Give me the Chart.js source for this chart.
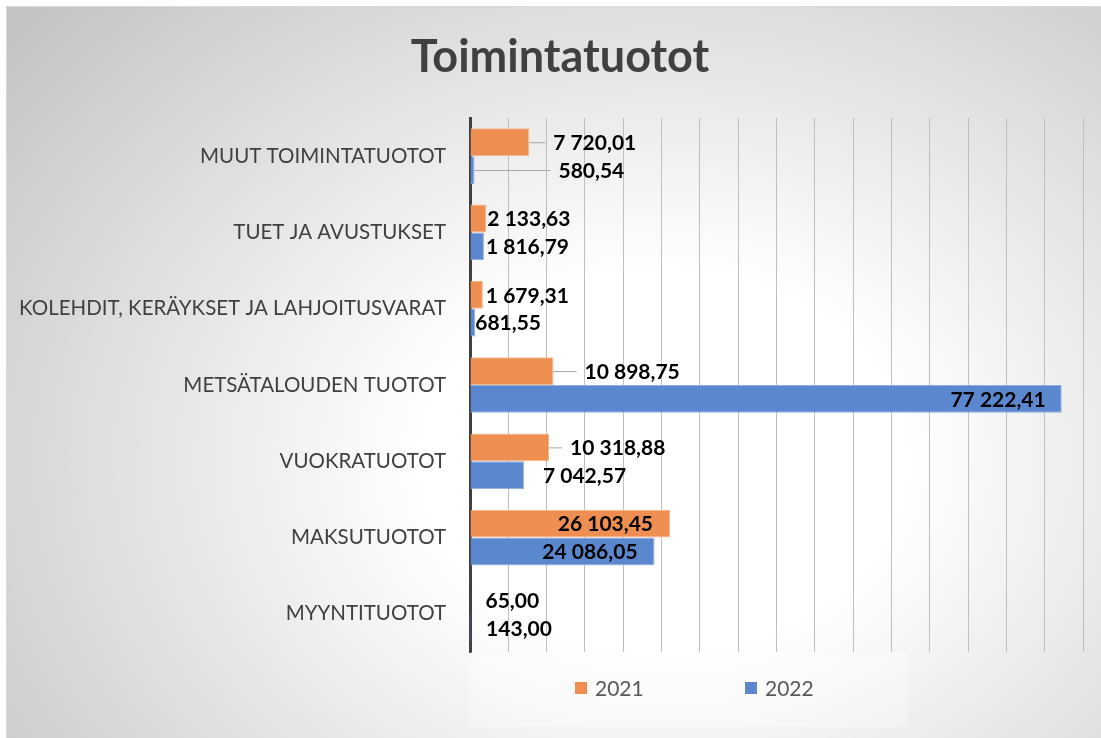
<!DOCTYPE html>
<html>
<head>
<meta charset="utf-8">
<script src="https://cdn.jsdelivr.net/npm/chart.js@4/dist/chart.umd.min.js"></script>
<style>
    html, body { margin: 0; padding: 0; background: #ffffff; }
    #frame {
        position: absolute; left: 6px; top: 6px; width: 1095px; height: 732px;
        border-top: 1px solid #d9d9d9; border-left: 1px solid #d9d9d9;
        background: radial-gradient(ellipse 78% 92% at 60% 62%, #ffffff 0%, #ffffff 28%, #c3c3c3 100%);
    }
    #wrap { position: absolute; left: 0; top: 0; width: 1101px; height: 738px; }
</style>
</head>
<body>
<div id="frame"></div>
<div id="wrap"><canvas id="toimintatuototGrafigi" width="1101" height="738"></canvas></div>
<script>
const chartTitle = 'Toimintatuotot';
const categories = [
    'MUUT TOIMINTATUOTOT',
    'TUET JA AVUSTUKSET',
    'KOLEHDIT, KERÄYKSET JA LAHJOITUSVARAT',
    'METSÄTALOUDEN TUOTOT',
    'VUOKRATUOTOT',
    'MAKSUTUOTOT',
    'MYYNTITUOTOT'
];
const seriesLabels = ['2021', '2022'];
const values2021 = [7720.01, 2133.63, 1679.31, 10898.75, 10318.88, 26103.45, 65.00];
const values2022 = [580.54, 1816.79, 681.55, 77222.41, 7042.57, 24086.05, 143.00];
const xMax = 80000;
const xStep = 5000;

// label shift from the bar end in px, negative = inside end (right aligned)
const labelDx2021 = [24, 1, 3, 31, 21, -17, 15];
const labelDx2022 = [84, 2, 0, -16, 19, -17, 15];

function formatFi(v) {
    const parts = v.toFixed(2).split('.');
    const intPart = parts[0].replace(/\B(?=(\d{3})+(?!\d))/g, ' ');
    return intPart + ',' + parts[1];
}

const titlePlugin = {
    id: 'titleText',
    afterDraw(chart) {
        const ctx = chart.ctx;
        ctx.save();
        ctx.font = 'bold 45px Lato';
        ctx.fillStyle = '#404040';
        ctx.textAlign = 'center';
        ctx.textBaseline = 'middle';
        ctx.fillText(chartTitle, 560, 57);
        ctx.restore();
    }
};

const dataLabelPlugin = {
    id: 'dataLabels',
    afterDatasetsDraw(chart) {
        const ctx = chart.ctx;
        const shifts = [labelDx2021, labelDx2022];
        ctx.save();
        ctx.font = 'bold 21px Lato';
        ctx.fillStyle = '#000000';
        ctx.textBaseline = 'middle';
        chart.data.datasets.forEach(function (ds, di) {
            const meta = chart.getDatasetMeta(di);
            meta.data.forEach(function (bar, i) {
                const dx = shifts[di][i];
                const text = formatFi(ds.data[i]);
                if (dx < 0) {
                    ctx.textAlign = 'right';
                    ctx.fillText(text, bar.x + dx, bar.y + 1);
                } else {
                    ctx.textAlign = 'left';
                    const tx = bar.x + dx;
                    if (dx >= 20) {
                        ctx.strokeStyle = '#a6a6a6';
                        ctx.lineWidth = 1;
                        ctx.beginPath();
                        ctx.moveTo(bar.x, bar.y + 0.5);
                        ctx.lineTo(tx - 8, bar.y + 0.5);
                        ctx.stroke();
                    }
                    ctx.fillText(text, tx, bar.y + 1);
                }
            });
        });
        ctx.restore();
    }
};

const legendPlugin = {
    id: 'bottomLegend',
    afterDraw(chart) {
        const ctx = chart.ctx;
        const area = chart.chartArea;
        const boxLeft = area.left;
        const boxTop = area.bottom;
        const boxW = 438;
        const boxH = 75;
        ctx.save();
        ctx.fillStyle = 'rgba(255,255,255,0.3)';
        ctx.fillRect(boxLeft, boxTop, boxW, boxH);
        const cy = boxTop + 36;
        const itemGap = 170;
        const startX = boxLeft + 105;
        ctx.font = '21px Lato';
        ctx.textBaseline = 'middle';
        ctx.textAlign = 'left';
        chart.data.datasets.forEach(function (ds, di) {
            const x = startX + di * itemGap;
            ctx.fillStyle = ds.backgroundColor;
            ctx.fillRect(x, cy - 6, 12, 12);
            ctx.fillStyle = '#595959';
            ctx.fillText(ds.label, x + 20, cy + 1);
        });
        ctx.restore();
    }
};

const ctx = document.getElementById('toimintatuototGrafigi').getContext('2d');
new Chart(ctx, {
    type: 'bar',
    data: {
        labels: categories,
        datasets: [
            {
                label: seriesLabels[0],
                data: values2021,
                backgroundColor: '#EF8E51',
                borderColor: '#F6B68C',
                borderWidth: 1,
                categoryPercentage: 0.73,
                barPercentage: 1.0
            },
            {
                label: seriesLabels[1],
                data: values2022,
                backgroundColor: '#5B87CE',
                borderColor: '#8FAEE0',
                borderWidth: 1,
                categoryPercentage: 0.73,
                barPercentage: 1.0
            }
        ]
    },
    options: {
        indexAxis: 'y',
        responsive: false,
        animation: false,
        layout: {
            padding: { left: 0, right: 18, top: 118, bottom: 86 }
        },
        plugins: {
            legend: { display: false },
            tooltip: { enabled: false },
            title: { display: false }
        },
        scales: {
            x: {
                min: 0,
                max: xMax,
                ticks: { display: false, stepSize: xStep },
                grid: { color: '#bfbfbf', lineWidth: 1, drawTicks: false },
                border: { display: false }
            },
            y: {
                z: 1,
                grid: { display: false, drawTicks: false },
                border: { display: true, color: '#404040', width: 3 },
                ticks: {
                    color: '#404040',
                    padding: 24,
                    font: { family: 'Lato', size: 20.5 }
                },
                afterFit: function (scale) {
                    scale.width = 470;
                }
            }
        }
    },
    plugins: [titlePlugin, dataLabelPlugin, legendPlugin]
});
</script>
</body>
</html>
